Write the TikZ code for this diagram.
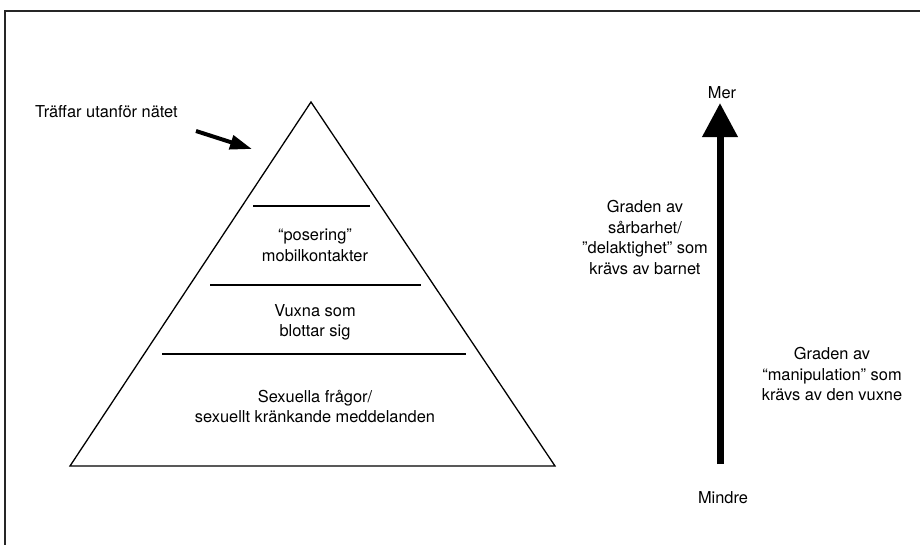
\documentclass[tikz,border=0pt]{standalone}
\usepackage{fontspec}
\setmainfont{TeX Gyre Heros}
\usetikzlibrary{arrows.meta}
\begin{document}
\begin{tikzpicture}[x=1pt,y=-1pt,
  lbl/.style={align=center, inner sep=0pt, font=\fontsize{16.4}{20.5}\selectfont},
  tierline/.style={line width=1.2pt},
  edgeline/.style={line width=1.3pt, line join=miter},
]
\useasboundingbox (0,0) rectangle (920,544);
\begin{scope}
\clip (0,0) rectangle (920,544);
\draw[line width=1.6pt, black!85] (5,11) rectangle (940,560);
\end{scope}
% pyramid
\coordinate (apex) at (311,102);
\coordinate (bl) at (70,466);
\coordinate (br) at (555,466);
\draw[edgeline] (apex) -- (br) -- (bl) -- cycle;
\coordinate (t1a) at (253,206); \coordinate (t1b) at (370,206);
\coordinate (t2a) at (210,285); \coordinate (t2b) at (421,285);
\coordinate (t3a) at (162,354); \coordinate (t3b) at (466,354);
\draw[line width=2pt] (t1a) -- (t1b);
\draw[tierline] (t2a) -- (t2b);
\draw[tierline] (t3a) -- (t3b);
\node[lbl] (pos) at (315,245.5) {“posering”\\mobilkontakter};
\node[lbl] (vux) at (315,322.5) {Vuxna som\\blottar sig};
\node[lbl] (sex) at (315,406.5) {Sexuella frågor/\\sexuellt kränkande meddelanden};
% top label and arrow
\node[lbl, anchor=west] (traff) at (35,112) {Träffar utanför nätet};
\coordinate (sa) at (196,131);
\coordinate (sb) at (252,149);
\draw[line width=4pt, -{Triangle[width=14pt,length=22pt]}] (sa) -- (sb);
% big arrow
\node[lbl] (mer) at (722,93) {Mer};
\node[lbl] (mindre) at (723,498) {Mindre};
\coordinate (lo) at (720,464);
\coordinate (hi) at (720,103);
\draw[line width=7pt, -{Triangle[width=34pt,length=34pt]}] (lo) -- (hi);
\node[lbl] (barn) at (645,237.5) {Graden av\\sårbarhet/\\"delaktighet" som\\krävs av barnet};
\node[lbl] (vuxen) at (832,374) {Graden av\\“manipulation” som\\krävs av den vuxne};
\end{tikzpicture}
\end{document}
